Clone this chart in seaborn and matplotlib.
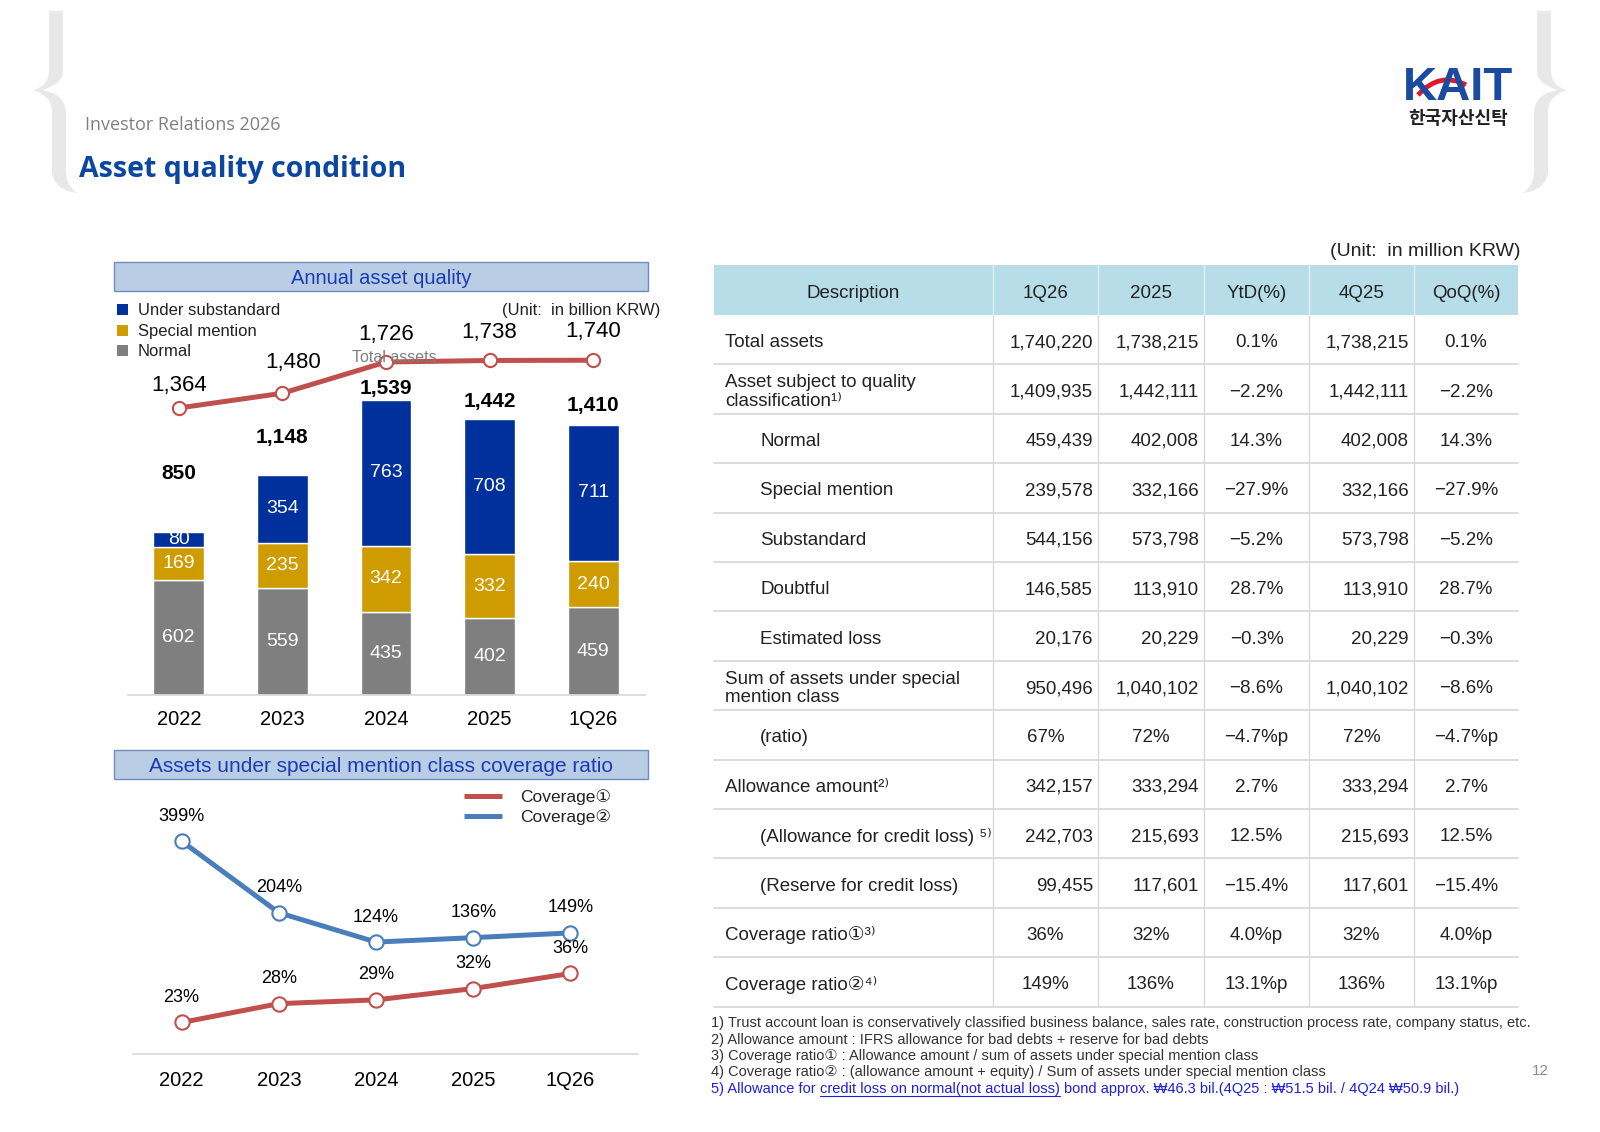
import matplotlib
matplotlib.use("Agg")
import matplotlib.pyplot as plt
import numpy as np
import pandas as pd
import seaborn as sns
from matplotlib.patches import PathPatch, Rectangle
from matplotlib.path import Path

# ---- chart data ----
periods = ["2022", "2023", "2024", "2025", "1Q26"]
normal = [602, 559, 435, 402, 459]
special_mention = [169, 235, 342, 332, 240]
under_substandard = [80, 354, 763, 708, 711]
bar_totals = [850, 1148, 1539, 1442, 1410]
total_assets = [1364, 1480, 1726, 1738, 1740]

coverage1 = [23, 28, 29, 32, 36]
coverage2 = [399, 204, 124, 136, 149]

# ---- table data ----
table_header = ["Description", "1Q26", "2025", "YtD(%)", "4Q25", "QoQ(%)"]
row_labels = [
    "Total assets",
    "Asset subject to quality\nclassification¹⁾",
    "Normal",
    "Special mention",
    "Substandard",
    "Doubtful",
    "Estimated loss",
    "Sum of assets under special\nmention class",
    "(ratio)",
    "Allowance amount²⁾",
    "(Allowance for credit loss) ⁵⁾",
    "(Reserve for credit loss)",
    "Coverage ratio①³⁾",
    "Coverage ratio②⁴⁾",
]
row_indent = [0, 0, 1, 1, 1, 1, 1, 0, 1, 0, 1, 1, 0, 0]
col_1q26 = ["1,740,220", "1,409,935", "459,439", "239,578", "544,156", "146,585", "20,176",
            "950,496", "67%", "342,157", "242,703", "99,455", "36%", "149%"]
col_2025 = ["1,738,215", "1,442,111", "402,008", "332,166", "573,798", "113,910", "20,229",
            "1,040,102", "72%", "333,294", "215,693", "117,601", "32%", "136%"]
col_ytd = ["0.1%", "−2.2%", "14.3%", "−27.9%", "−5.2%", "28.7%", "−0.3%",
           "−8.6%", "−4.7%p", "2.7%", "12.5%", "−15.4%", "4.0%p", "13.1%p"]
col_4q25 = ["1,738,215", "1,442,111", "402,008", "332,166", "573,798", "113,910", "20,229",
            "1,040,102", "72%", "333,294", "215,693", "117,601", "32%", "136%"]
col_qoq = ["0.1%", "−2.2%", "14.3%", "−27.9%", "−5.2%", "28.7%", "−0.3%",
           "−8.6%", "−4.7%p", "2.7%", "12.5%", "−15.4%", "4.0%p", "13.1%p"]

footnotes = [
    "1) Trust account loan is conservatively classified business balance, sales rate, construction process rate, company status, etc.",
    "2) Allowance amount : IFRS allowance for bad debts + reserve for bad debts",
    "3) Coverage ratio① : Allowance amount / sum of assets under special mention class",
    "4) Coverage ratio② : (allowance amount + equity) / Sum of assets under special mention class",
]
note5_parts = ["5) Allowance for", "credit loss on normal(not actual loss)",
               "bond approx. ₩46.3 bil.(4Q25 : ₩51.5 bil. / 4Q24 ₩50.9 bil.)"]

# ---- colours ----
GRAY = "#7f7f7f"
GOLD = "#cf9c00"
NAVY = "#00309c"
RED = "#c0504d"
BLUE = "#4a7ebb"
BOX_FILL = "#b9cde5"
BOX_EDGE = "#6f8db9"
BOX_TEXT = "#1c3cb4"
HEAD_FILL = "#b6dde8"
GRID = "#d9d9d9"
TXT = "#222222"

W, H = 1600, 1132

sns.set_theme(style="white")
plt.rcParams["font.family"] = ["Liberation Sans", "DejaVu Sans", "Noto Sans CJK KR"]

fig = plt.figure(figsize=(16, 11.32), dpi=100)
page = fig.add_axes([0, 0, 1, 1])
page.set_xlim(0, W)
page.set_ylim(H, 0)
page.axis("off")


def px_axes(x0, y0, x1, y1):
    a = fig.add_axes([x0 / W, 1 - y1 / H, (x1 - x0) / W, (y1 - y0) / H])
    a.patch.set_alpha(0)
    return a


def brace(mirror=False):
    pts = [(49, 11), (49, 70), (49, 86), (33, 90),
           (52, 96), (52, 112), (52, 172), (54, 190), (77, 193),
           (66, 186), (66, 170), (66, 112), (65, 94), (42, 90),
           (63, 84), (63, 70), (63, 11), (49, 11)]
    codes = [Path.MOVETO, Path.LINETO, Path.CURVE3, Path.CURVE3,
             Path.CURVE3, Path.CURVE3, Path.LINETO, Path.CURVE3, Path.CURVE3,
             Path.CURVE3, Path.CURVE3, Path.LINETO, Path.CURVE3, Path.CURVE3,
             Path.CURVE3, Path.CURVE3, Path.LINETO, Path.CLOSEPOLY]
    if mirror:
        pts = [(W - x, y) for x, y in pts]
    page.add_patch(PathPatch(Path(pts, codes), fc="#e8e8e8", ec="none"))


# ---- header ----
brace()
brace(mirror=True)
page.text(85, 125, "Investor Relations 2026", fontsize=13, color="#808080",
          family=["Open Sans", "DejaVu Sans"], va="center")
page.text(79, 170, "Asset quality condition", fontsize=20.5, color="#0b47a1", fontweight="bold",
          family=["Open Sans", "DejaVu Sans"], va="center")
page.text(1458, 88, "KAIT", fontsize=34, fontweight="bold", color="#1a4ba0", ha="center", va="center")
swoosh = Path([(1418, 95), (1440, 71), (1466, 85)], [Path.MOVETO, Path.CURVE3, Path.CURVE3])
page.add_patch(PathPatch(swoosh, fill=False, ec="#e0182d", lw=3.5))
page.text(1458, 118, "한국자산신탁", fontsize=13, fontweight="bold", color=TXT,
          family=["Noto Sans CJK KR"], ha="center", va="center")

# ---- top chart frame ----
page.add_patch(Rectangle((114, 262), 534, 29, fc=BOX_FILL, ec=BOX_EDGE, lw=1))
page.text(381, 279, "Annual asset quality", fontsize=14.5, color=BOX_TEXT, ha="center", va="center")
for (name, color), y in zip([("Under substandard", NAVY), ("Special mention", GOLD), ("Normal", GRAY)],
                            [309, 330, 350]):
    page.add_patch(Rectangle((117, y - 5.5), 11, 11, fc=color, ec="none"))
    page.text(138, y + 1.5, name, fontsize=12, color=TXT, va="center")
page.text(660, 311, "(Unit:  in billion KRW)", fontsize=12, color=TXT, ha="right", va="center")

ax = px_axes(128, 290, 645, 695)
df = pd.DataFrame({"period": periods, "Normal": normal,
                   "Special mention": special_mention, "Under substandard": under_substandard})
bottom = np.zeros(len(periods))
for name, color in zip(["Normal", "Special mention", "Under substandard"], [GRAY, GOLD, NAVY]):
    sns.barplot(data=df, x="period", y=name, color=color, width=0.49, bottom=bottom,
                saturation=1, errorbar=None, ax=ax)
    for i, v in enumerate(df[name]):
        ax.text(i, bottom[i] + v / 2, str(v), ha="center", va="center", color="white", fontsize=14)
    bottom = bottom + df[name].to_numpy()

total_dy = [42, 27, 8, 12.5, 14]
for i, (t, dy) in enumerate(zip(bar_totals, total_dy)):
    ax.annotate(f"{t:,}", (i, bottom[i]), xytext=(0, dy), textcoords="offset points",
                ha="center", va="center", fontsize=15, fontweight="bold", color="black")

ax2 = ax.twinx()
pos = np.arange(len(periods))
sns.lineplot(x=pos, y=total_assets, ax=ax2, color=RED, lw=3.6, marker="o", markersize=9.5,
             markerfacecolor="white", markeredgecolor=RED, markeredgewidth=1.5)
line_dx = [0, 8, 0, 0, 0]
line_dy = [16, 22, 20, 20, 21]
for i, v in enumerate(total_assets):
    ax2.annotate(f"{v:,}", (i, v), xytext=(line_dx[i], line_dy[i]), textcoords="offset points",
                 ha="center", va="center", fontsize=16, color="black")
ax2.annotate("Total assets", (2, total_assets[2]), xytext=(6, 3.5), textcoords="offset points",
             ha="center", va="center", fontsize=11.5, color="#7f7f7f")
ax2.set_ylim(-896, 2293)
ax2.axis("off")

ax.set_xlim(-0.49, 4.5)
ax.set_ylim(0, 2113)
ax.set_xlabel("")
ax.set_ylabel("")
ax.set_yticks([])
for s in ["top", "left", "right"]:
    ax.spines[s].set_visible(False)
ax.spines["bottom"].set_color(GRID)
ax.tick_params(axis="x", length=0, pad=10.5, labelsize=14.5, labelcolor="black")

# ---- bottom chart ----
page.add_patch(Rectangle((114, 750), 534, 29, fc=BOX_FILL, ec=BOX_EDGE, lw=1))
page.text(381, 767, "Assets under special mention class coverage ratio", fontsize=15,
          color=BOX_TEXT, ha="center", va="center")
for label, color, y in [("Coverage①", RED, 796), ("Coverage②", BLUE, 816)]:
    page.plot([464, 502], [y, y], color=color, lw=3.6, solid_capstyle="butt")
    page.text(520, y + 1.5, label, fontsize=12.5, color=TXT, va="center")

ax3 = px_axes(133, 785, 638, 1054)
sns.lineplot(x=pos, y=coverage2, ax=ax3, color=BLUE, lw=3.6, marker="o", markersize=10.3,
             markerfacecolor="white", markeredgecolor=BLUE, markeredgewidth=1.5)
for i, v in enumerate(coverage2):
    ax3.annotate(f"{v}%", (i, v), xytext=(0, 18), textcoords="offset points",
                 ha="center", va="center", fontsize=13, color="black")
ax4 = ax3.twinx()
sns.lineplot(x=pos, y=coverage1, ax=ax4, color=RED, lw=3.6, marker="o", markersize=10.3,
             markerfacecolor="white", markeredgecolor=RED, markeredgewidth=1.5)
for i, v in enumerate(coverage1):
    ax4.annotate(f"{v}%", (i, v), xytext=(0, 18), textcoords="offset points",
                 ha="center", va="center", fontsize=13, color="black")
ax4.set_ylim(14.64, 86)
ax4.axis("off")

ax3.set_xlim(-0.5, 4.695)
ax3.set_ylim(-181, 552)
ax3.set_xticks(pos, periods)
ax3.set_yticks([])
for s in ["top", "left", "right"]:
    ax3.spines[s].set_visible(False)
ax3.spines["bottom"].set_color(GRID)
ax3.tick_params(axis="x", length=0, pad=12.5, labelsize=14.5, labelcolor="black")

# ---- table ----
col_edges = [714, 993, 1098, 1204, 1309, 1414, 1518]
head_top, head_bot = 265, 315
row_h = 49.4
n_rows = len(row_labels)
tab_bot = head_bot + n_rows * row_h
dy_txt = 3  # matplotlib centres on the full bbox, nudge to sit like the original

page.text(1520, 251, "(Unit:  in million KRW)", fontsize=14, color=TXT, ha="right", va="center")
page.add_patch(Rectangle((col_edges[0], head_top), col_edges[-1] - col_edges[0], head_bot - head_top,
                         fc=HEAD_FILL, ec="none"))
for x in col_edges[1:-1]:
    page.plot([x, x], [head_top, head_bot], color="#e3f0f4", lw=1)
    page.plot([x, x], [head_bot, tab_bot], color=GRID, lw=1)
for k in range(1, n_rows + 1):
    y = head_bot + k * row_h
    page.plot([col_edges[0], col_edges[-1]], [y, y], color=GRID, lw=1.3)

for j, name in enumerate(table_header):
    page.text((col_edges[j] + col_edges[j + 1]) / 2, (head_top + head_bot) / 2 + dy_txt, name,
              fontsize=13.5, color=TXT, ha="center", va="center")

columns = [col_1q26, col_2025, col_ytd, col_4q25, col_qoq]
for i, label in enumerate(row_labels):
    yc = head_bot + (i + 0.5) * row_h + dy_txt
    x_lab = 760 if row_indent[i] else 725
    page.text(x_lab, yc, label, fontsize=13.5, color=TXT, ha="left", va="center", linespacing=1.15)
    for j, col in enumerate(columns):
        s = col[i]
        left, right = col_edges[j + 1], col_edges[j + 2]
        if s.endswith("%") or s.endswith("%p"):
            page.text((left + right) / 2, yc, s, fontsize=13.5, color=TXT, ha="center", va="center")
        else:
            page.text(right - 5, yc, s, fontsize=13.5, color=TXT, ha="right", va="center")

# ---- footnotes ----
note_y = [1023, 1040, 1056, 1072, 1089]
note_kw = dict(fontsize=10.5, va="center")
for s, y in zip(footnotes, note_y):
    page.text(711, y, s, color="#333333", **note_kw)

fig.canvas.draw()
rend = fig.canvas.get_renderer()


def text_w(s):
    t = page.text(0, 0, s, **note_kw)
    w = t.get_window_extent(rend).width
    t.remove()
    return w


space = text_w("a a") - text_w("aa")
NOTE_BLUE = "#1f1fe0"
x = 711
y5 = note_y[4]
for k, part in enumerate(note5_parts):
    page.text(x, y5, part, color=NOTE_BLUE, **note_kw)
    w = text_w(part)
    if k == 1:
        page.plot([x, x + w], [y5 + 7, y5 + 7], color=NOTE_BLUE, lw=0.8)
    x += w + space

page.text(1540, 1071, "12", fontsize=11, color="#8c8c8c", ha="center", va="center")

fig.savefig("out.png", dpi=100)
